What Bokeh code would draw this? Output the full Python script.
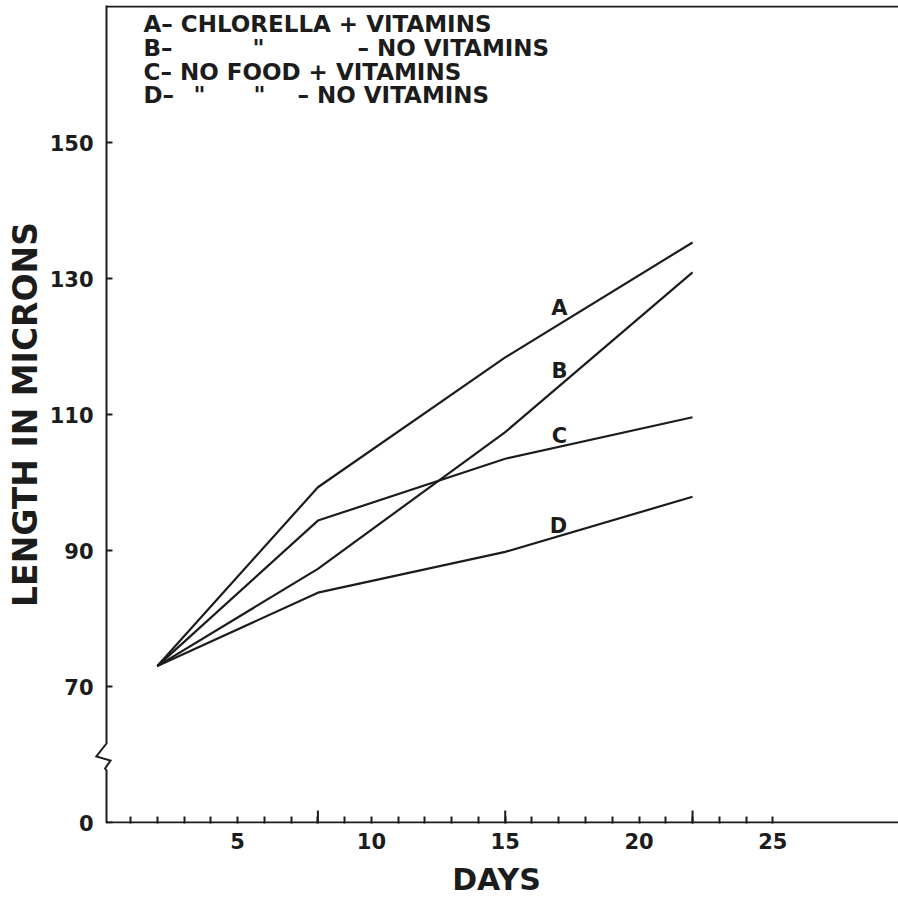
from bokeh.plotting import figure
from bokeh.models import FixedTicker, LinearAxis, Label, Range1d
from bokeh.embed import file_html
from bokeh.resources import INLINE

# ---- data ----
days = [2, 8, 15, 22]
series_A = [73.0, 99.3, 118.4, 135.3]
series_B = [73.0, 87.3, 107.4, 130.9]
series_C = [73.0, 94.4, 103.5, 109.6]
series_D = [73.0, 83.8, 89.8, 97.9]
series_names = ["A", "B", "C", "D"]
x_label_ticks = [5, 10, 15, 20, 25]
week_ticks = [8, 15, 22]
day_ticks = list(range(1, 26))
y_tick_values = [50, 70, 90, 110, 130, 150]
y_tick_labels = ["0", "70", "90", "110", "130", "150"]
y_top = 170

FONT = "DejaVu Sans"
INK = "#1c1c1c"

# layout (pixels)
W, H = 898, 902
SP = 106            # pixel column of the y-axis spine
PXU = 26.76         # pixels per day
PYU = 6.8           # pixels per micron
BASE_PY = 822       # pixel row of the x-axis line (value 50)
FL, FT, FB = 94, 5, 79


def dx(px):
    return 0.1 + (px - SP) / PXU


def dy(py):
    return 50 + (BASE_PY - py) / PYU


X0, X1 = dx(FL), dx(W)
Y0, Y1 = dy(H - FB), dy(FT)
XS = dx(SP)

p = figure(width=W, height=H, x_range=Range1d(X0, X1), y_range=Range1d(Y0, Y1),
           output_backend="svg", toolbar_location=None,
           x_axis_location=None, y_axis_location=None,
           min_border_left=FL, min_border_right=0, min_border_top=FT,
           min_border_bottom=FB)
p.outline_line_color = None
p.xgrid.visible = False
p.ygrid.visible = False
p.background_fill_color = "white"
p.border_fill_color = "white"

# y axis: labels and title only (spine and ticks are drawn below)
yax = LinearAxis(ticker=FixedTicker(ticks=y_tick_values, minor_ticks=[]))
yax.major_label_overrides = {v: t for v, t in zip(y_tick_values, y_tick_labels)}
yax.axis_line_color = None
yax.major_tick_line_color = None
yax.minor_tick_line_color = None
yax.major_tick_in = 0
yax.major_tick_out = 0
yax.major_label_text_font = FONT
yax.major_label_text_font_style = "bold"
yax.major_label_text_font_size = "21px"
yax.major_label_text_color = INK
yax.major_label_standoff = 1
yax.axis_label = "LENGTH IN MICRONS"
yax.axis_label_text_font = FONT
yax.axis_label_text_font_style = "bold"
yax.axis_label_text_font_size = "33px"
yax.axis_label_text_color = INK
yax.axis_label_standoff = 2
p.add_layout(yax, "left")

# x axis: labels every 5 days, daily minor ticks
xax = LinearAxis(ticker=FixedTicker(ticks=x_label_ticks, minor_ticks=day_ticks))
xax.axis_line_color = None
xax.major_tick_line_color = None
xax.major_tick_in = 0
xax.major_tick_out = 0
xax.minor_tick_line_color = INK
xax.minor_tick_line_width = 2
xax.minor_tick_in = 7
xax.minor_tick_out = 0
xax.major_label_text_font = FONT
xax.major_label_text_font_style = "bold"
xax.major_label_text_font_size = "21px"
xax.major_label_text_color = INK
xax.major_label_standoff = 9
xax.axis_label = "DAYS"
xax.axis_label_text_font = FONT
xax.axis_label_text_font_style = "bold"
xax.axis_label_text_font_size = "30px"
xax.axis_label_text_color = INK
xax.axis_label_standoff = 10
p.add_layout(xax, "below")

# x-axis line and top frame line (start at the spine)
p.segment(x0=[XS, XS], y0=[50, y_top], x1=[X1, X1], y1=[50, y_top],
          line_color=INK, line_width=2)
# taller weekly ticks
p.segment(x0=week_ticks, y0=[Y0] * len(week_ticks), x1=week_ticks,
          y1=[50 + 12 / PYU] * len(week_ticks), line_color=INK, line_width=2)

# y spine with the axis-break zig-zag
spine_px = [(SP, FT - 2), (SP, 743), (95.8, 756), (110, 760), (104.6, 768),
            (SP, 770), (SP, BASE_PY + 1)]
p.line([dx(a) for a, _ in spine_px], [dy(b) for _, b in spine_px],
       line_color=INK, line_width=2, line_join="miter")
# y tick marks (inward)
n = len(y_tick_values)
p.segment(x0=[XS] * n, y0=y_tick_values, x1=[dx(SP + 6)] * n, y1=y_tick_values,
          line_color=INK, line_width=2)

# curves
for ys in (series_A, series_B, series_C, series_D):
    p.line(days, ys, line_color=INK, line_width=2.2)

# curve letters
letter_pos = [(559, 307), (559, 370), (559, 435), (558, 525)]
for name, (lx, ly) in zip(series_names, letter_pos):
    p.add_layout(Label(x=dx(lx), y=dy(ly), text=name, text_align="center",
                       text_baseline="middle", text_font=FONT, text_font_style="bold",
                       text_font_size="21px", text_color=INK))

# key
key = [
    ("A\u2013 CHLORELLA + VITAMINS", 143, 23, "left"),
    ("B\u2013", 143, 47, "left"),
    ("\"", 258, 47, "center"),
    ("\u2013 NO VITAMINS", 357, 47, "left"),
    ("C\u2013 NO FOOD + VITAMINS", 143, 71, "left"),
    ("D\u2013", 143, 94, "left"),
    ("\"", 199, 94, "center"),
    ("\"", 259, 94, "center"),
    ("\u2013 NO VITAMINS", 297, 94, "left"),
]
for txt, kx, ky, al in key:
    p.add_layout(Label(x=dx(kx), y=dy(ky), text=txt, text_align=al,
                       text_baseline="middle", text_font=FONT, text_font_style="bold",
                       text_font_size="23px", text_color=INK))

open("out.html", "w").write(file_html(p, INLINE))
